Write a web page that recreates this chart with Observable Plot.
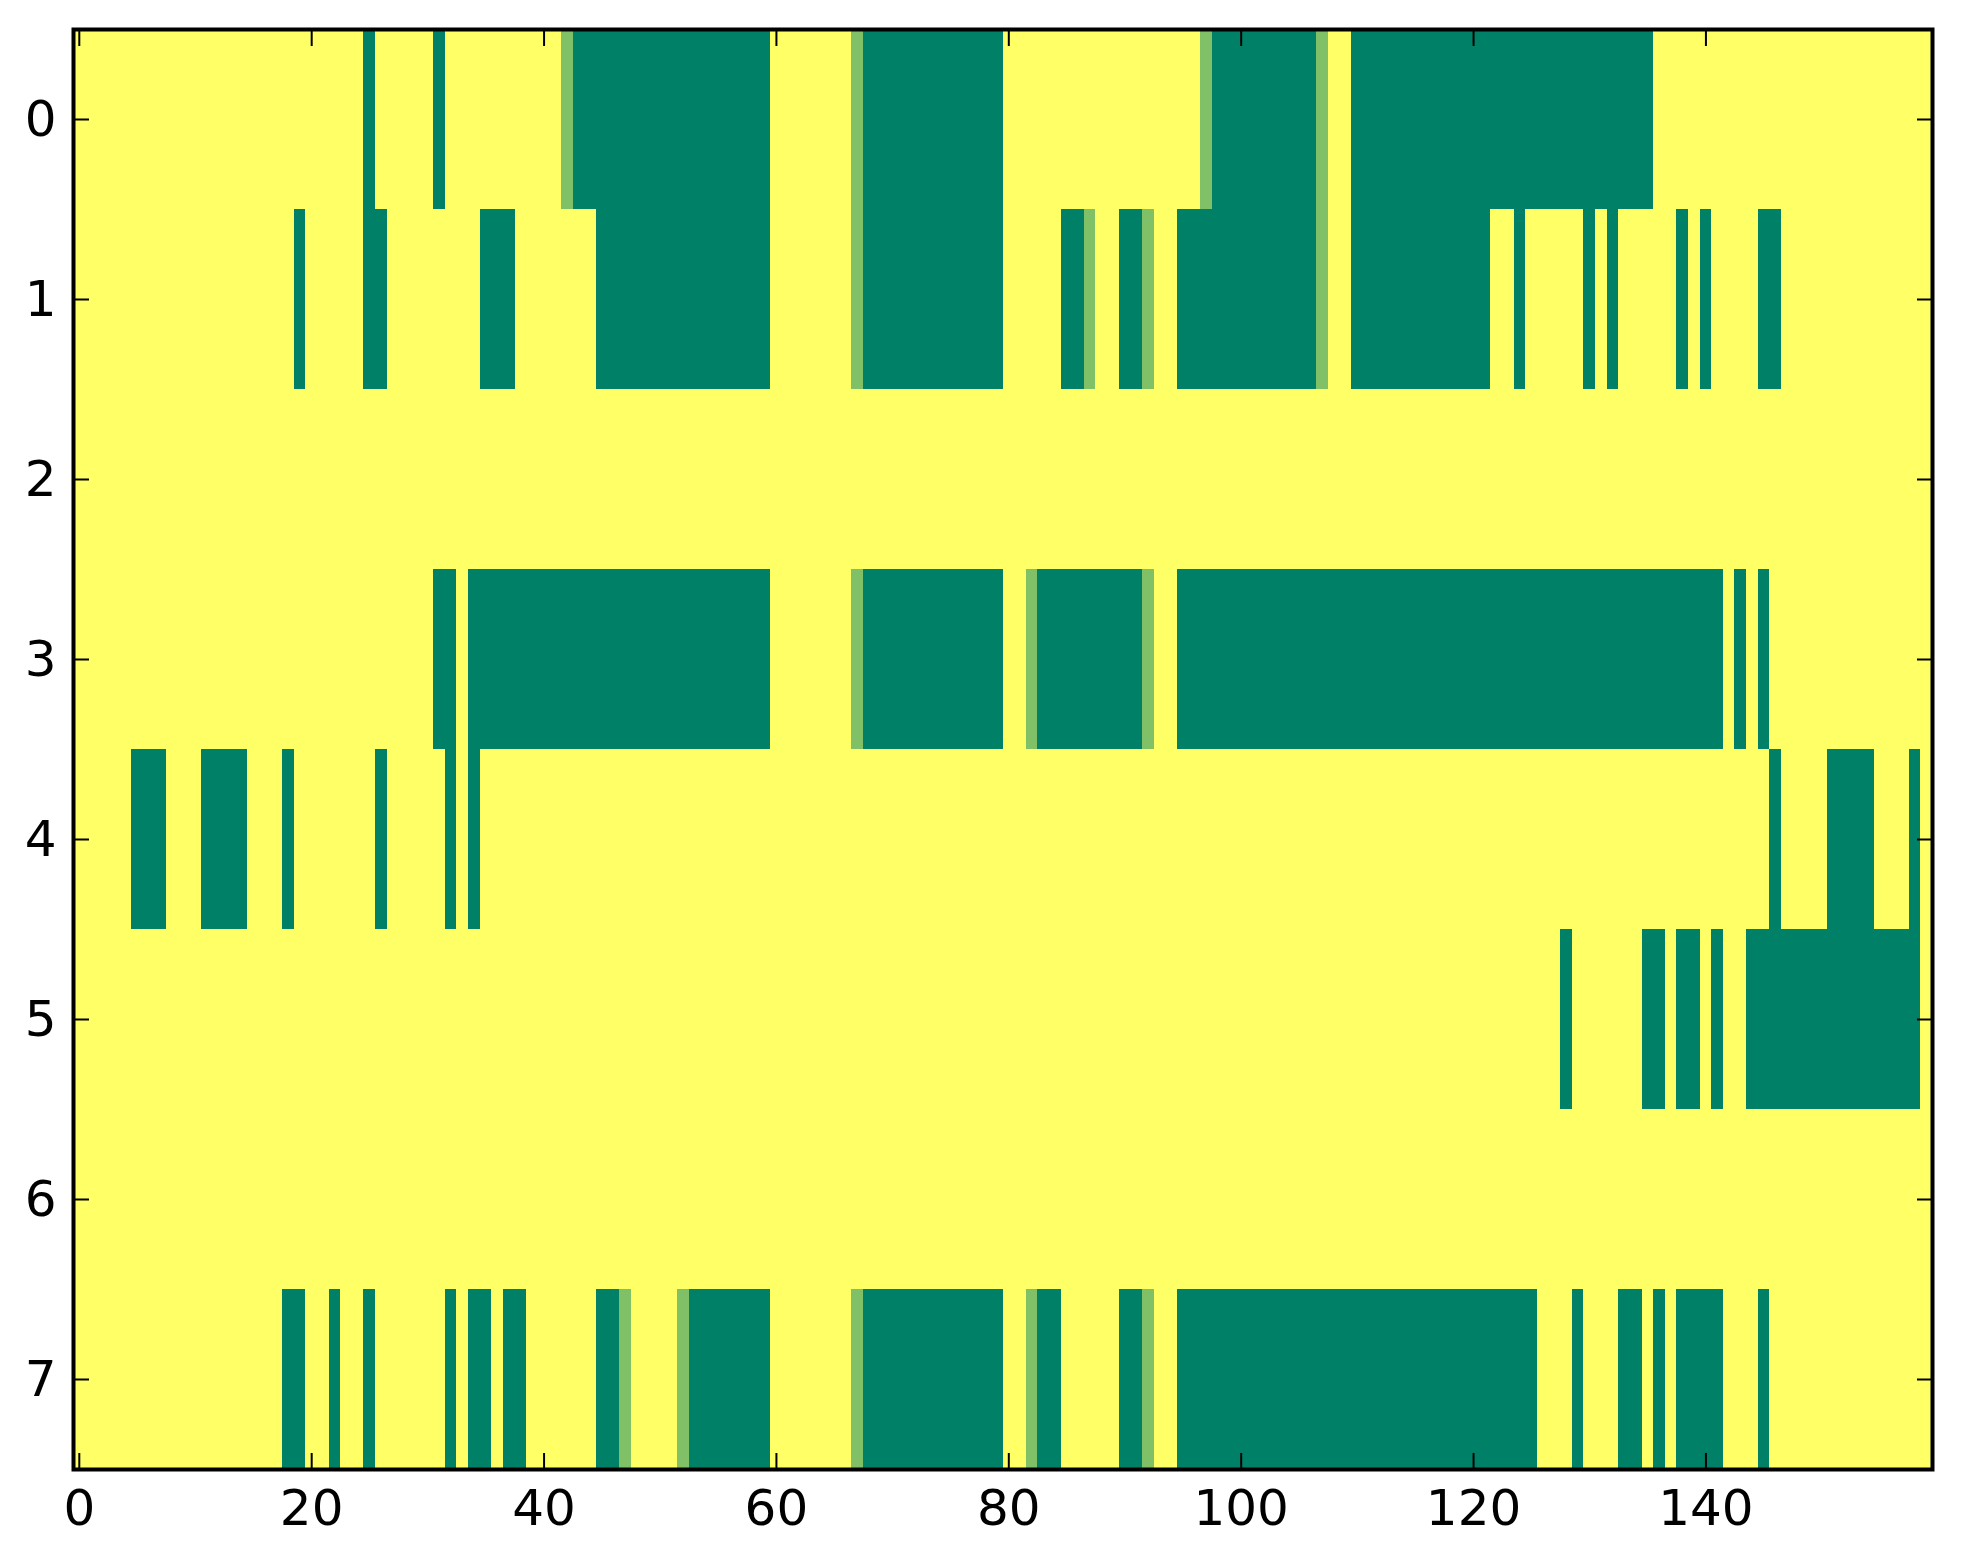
<!DOCTYPE html>
<html>
<head>
<meta charset="utf-8">
<script src="https://cdn.jsdelivr.net/npm/d3@7"></script>
<script src="https://cdn.jsdelivr.net/npm/@observablehq/plot@0.6"></script>
<style>
  html, body { margin: 0; padding: 0; background: #ffffff; }
  #chart { width: 1963px; height: 1564px; }
</style>
</head>
<body>
<div id="chart"></div>
<script>
// Number of columns (x: 0..159) and row labels (y: 0..7)
const nCols = 160;
const rowIds = [0, 1, 2, 3, 4, 5, 6, 7];
const xTicks = [0, 20, 40, 60, 80, 100, 120, 140];
const yTicks = [0, 1, 2, 3, 4, 5, 6, 7];

// Non-zero segments per row: [firstColumn, lastColumn, value]  (1 = full, 0.5 = half)
const row0 = [[25,25,1],[31,31,1],[42,42,0.5],[43,59,1],[67,67,0.5],[68,79,1],[97,97,0.5],[98,106,1],[107,107,0.5],[110,135,1]];
const row1 = [[19,19,1],[25,26,1],[35,37,1],[45,59,1],[67,67,0.5],[68,79,1],[85,86,1],[87,87,0.5],[90,91,1],[92,92,0.5],[95,106,1],[107,107,0.5],[110,121,1],[124,124,1],[130,130,1],[132,132,1],[138,138,1],[140,140,1],[145,146,1]];
const row2 = [];
const row3 = [[31,32,1],[34,59,1],[67,67,0.5],[68,79,1],[82,82,0.5],[83,91,1],[92,92,0.5],[95,141,1],[143,143,1],[145,145,1]];
const row4 = [[5,7,1],[11,14,1],[18,18,1],[26,26,1],[32,32,1],[34,34,1],[146,146,1],[151,154,1],[158,158,1]];
const row5 = [[128,128,1],[135,136,1],[138,139,1],[141,141,1],[144,158,1]];
const row6 = [];
const row7 = [[18,19,1],[22,22,1],[25,25,1],[32,32,1],[34,35,1],[37,38,1],[45,46,1],[47,47,0.5],[52,52,0.5],[53,59,1],[67,67,0.5],[68,79,1],[82,82,0.5],[83,84,1],[90,91,1],[92,92,0.5],[95,125,1],[129,129,1],[133,134,1],[136,136,1],[138,141,1],[145,145,1]];
const rowSegments = [row0, row1, row2, row3, row4, row5, row6, row7];

// Build the full matrix, then run-length encode each row into cell blocks
const matrix = rowIds.map((r, i) => {
  const vals = new Array(nCols).fill(0);
  for (const [a, b, v] of rowSegments[i]) for (let c = a; c <= b; c++) vals[c] = v;
  return vals;
});
const blocks = [];
matrix.forEach((vals, r) => {
  let start = 0;
  for (let c = 1; c <= nCols; c++) {
    if (c === nCols || vals[c] !== vals[start]) {
      blocks.push({row: r, c0: start, c1: c - 1, v: vals[start]});
      start = c;
    }
  }
});

const font = "DejaVu Sans, Liberation Sans, sans-serif";

const chart = Plot.plot({
  width: 1963,
  height: 1564,
  marginLeft: 73,
  marginRight: 31,
  marginTop: 29,
  marginBottom: 95,
  style: {fontFamily: font, background: "#ffffff"},
  x: {domain: [-0.5, nCols - 0.5], axis: null},
  y: {domain: [-0.5, rowIds.length - 0.5], reverse: true, axis: null},
  color: {type: "linear", domain: [0, 1], range: ["#ffff66", "#008066"], interpolate: "rgb"},
  marks: [
    Plot.rect(blocks, {
      x1: d => d.c0 - 0.5, x2: d => d.c1 + 0.5,
      y1: d => d.row - 0.5, y2: d => d.row + 0.5,
      fill: d => d.v, shapeRendering: "crispEdges"
    }),
    // inward ticks on all four sides
    Plot.axisX({anchor: "bottom", ticks: xTicks, tickSize: -16, strokeWidth: 2, tickFormat: () => ""}),
    Plot.axisX({anchor: "top", ticks: xTicks, tickSize: -16, strokeWidth: 2, tickFormat: () => ""}),
    Plot.axisY({anchor: "left", ticks: yTicks, tickSize: -16, strokeWidth: 2, tickFormat: () => ""}),
    Plot.axisY({anchor: "right", ticks: yTicks, tickSize: -16, strokeWidth: 2, tickFormat: () => ""}),
    // tick labels
    Plot.axisX({anchor: "bottom", ticks: xTicks, tickSize: 0, tickPadding: 20, fontSize: 50, fill: "black", tickFormat: d => String(d)}),
    Plot.axisY({anchor: "left", ticks: yTicks, tickSize: 0, tickPadding: 17, fontSize: 50, fill: "black", tickFormat: d => String(d)}),
    Plot.frame({stroke: "black", strokeWidth: 4})
  ]
});
document.getElementById("chart").appendChild(chart);
</script>
</body>
</html>
